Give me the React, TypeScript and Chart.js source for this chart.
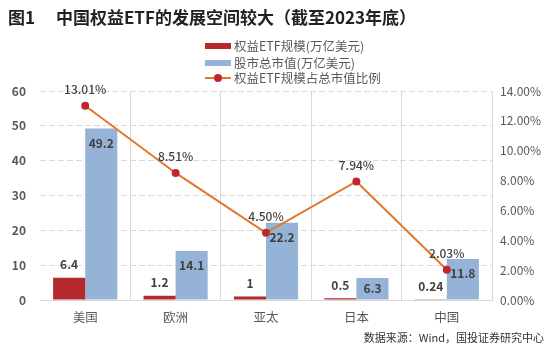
import React, { useEffect, useRef } from "react";
import { Chart, registerables } from "chart.js";

Chart.register(...registerables);

const categories = ["美国", "欧洲", "亚太", "日本", "中国"];
const etfSize = [6.4, 1.2, 1, 0.5, 0.24];
const marketCap = [49.2, 14.1, 22.2, 6.3, 11.8];
const etfRatio = [13.01, 8.51, 4.5, 7.94, 2.03];
const etfSizeLabels = ["6.4", "1.2", "1", "0.5", "0.24"];
const marketCapLabels = ["49.2", "14.1", "22.2", "6.3", "11.8"];

const RED = "#b3292c";
const BLUE = "#95b3d7";
const ORANGE = "#e2762a";
const FONT = "'Noto Sans CJK SC', 'Noto Sans', sans-serif";

const labelPlugin = {
  id: "valueLabels",
  afterDatasetsDraw(chart: any) {
    const ctx = chart.ctx;
    ctx.save();
    ctx.fillStyle = "#404040";
    ctx.textAlign = "center";
    ctx.textBaseline = "middle";
    const bottom = chart.chartArea.bottom;
    const m0 = chart.getDatasetMeta(0);
    ctx.font = `bold 12px ${FONT}`;
    m0.data.forEach((el: any, i: number) => {
      ctx.fillText(etfSizeLabels[i], el.x, el.y - 13);
    });
    const m1 = chart.getDatasetMeta(1);
    m1.data.forEach((el: any, i: number) => {
      const y = Math.min(el.y + 15, bottom - 12);
      ctx.fillText(marketCapLabels[i], el.x, y);
    });
    const m2 = chart.getDatasetMeta(2);
    ctx.font = `500 12px ${FONT}`;
    m2.data.forEach((el: any, i: number) => {
      ctx.fillText(etfRatio[i].toFixed(2) + "%", el.x, el.y - 16.5);
    });
    ctx.restore();
  },
};

function ChartCanvas() {
  const ref = useRef<HTMLCanvasElement | null>(null);
  useEffect(() => {
    if (!ref.current) return;
    const chart = new Chart(ref.current, {
      type: "bar",
      data: {
        labels: categories,
        datasets: [
          {
            type: "bar",
            label: "权益ETF规模(万亿美元)",
            data: etfSize,
            backgroundColor: RED,
            yAxisID: "y",
            order: 1,
            categoryPercentage: 0.71,
            barPercentage: 1,
          },
          {
            type: "bar",
            label: "股市总市值(万亿美元)",
            data: marketCap,
            backgroundColor: BLUE,
            yAxisID: "y",
            order: 1,
            categoryPercentage: 0.71,
            barPercentage: 1,
          },
          {
            type: "line",
            label: "权益ETF规模占总市值比例",
            data: etfRatio,
            borderColor: ORANGE,
            borderWidth: 2,
            pointRadius: 4,
            pointBackgroundColor: "#c0272d",
            pointBorderColor: "#c0272d",
            pointBorderWidth: 0,
            yAxisID: "y1",
            order: 0,
            tension: 0,
          },
        ] as any,
      },
      options: {
        animation: false,
        responsive: true,
        maintainAspectRatio: false,
        layout: { padding: { left: 12, right: 0, top: 91, bottom: 23 } },
        plugins: {
          legend: { display: false },
          tooltip: { enabled: false },
          title: { display: false },
        },
        scales: {
          x: {
            afterFit: (s: any) => {
              s.height = 26;
            },
            grid: {
              offset: true,
              drawTicks: false,
              color: (c: any) => (c.index === 0 || c.index === 5 ? "rgba(0,0,0,0)" : "#d9d9d9"),
              lineWidth: 1,
            },
            border: { display: true, color: "#d9d9d9", width: 1 },
            ticks: {
              padding: 10,
              color: "#595959",
              font: { family: FONT, size: 12.5 },
            },
          },
          y: {
            position: "left",
            min: 0,
            max: 60,
            afterFit: (s: any) => {
              s.width = 28;
            },
            ticks: {
              stepSize: 10,
              padding: 14,
              color: "#595959",
              font: { family: FONT, size: 12, weight: "bold" },
            },
            grid: { drawTicks: false, color: "#d9d9d9", lineWidth: 1 },
            border: { display: false, dash: [6, 3] },
          },
          y1: {
            position: "right",
            min: 0,
            max: 14,
            afterFit: (s: any) => {
              s.width = 58;
            },
            ticks: {
              stepSize: 2,
              padding: 8,
              color: "#595959",
              font: { family: FONT, size: 12 },
              callback: (v: any) => Number(v).toFixed(2) + "%",
            },
            grid: { display: false, drawTicks: false },
            border: { display: false },
          },
        },
      } as any,
      plugins: [labelPlugin],
    });
    return () => chart.destroy();
  }, []);
  return <canvas ref={ref} />;
}

export default function App() {
  const legendText: React.CSSProperties = {
    position: "absolute",
    left: 234,
    fontFamily: FONT,
    fontSize: 12.5,
    color: "#595959",
    lineHeight: "16px",
    whiteSpace: "nowrap",
  };
  return (
    <div
      style={{
        position: "fixed",
        left: 0,
        top: 0,
        width: 550,
        height: 349,
        background: "#fff",
        overflow: "hidden",
      }}
    >
      <div style={{ position: "absolute", left: 0, top: 0, width: 550, height: 349 }}>
        <ChartCanvas />
      </div>
      <div
        style={{
          position: "absolute",
          left: 8,
          top: 6,
          fontFamily: FONT,
          fontWeight: "bold",
          fontSize: 17,
          color: "#222",
          whiteSpace: "pre",
          lineHeight: "22px",
        }}
      >
        {"图1　 中国权益ETF的发展空间较大（截至2023年底）"}
      </div>
      <div style={{ position: "absolute", left: 205, top: 43, width: 26, height: 6, background: RED }} />
      <div style={{ ...legendText, top: 38 }}>权益ETF规模(万亿美元)</div>
      <div style={{ position: "absolute", left: 205, top: 60, width: 26, height: 6, background: BLUE }} />
      <div style={{ ...legendText, top: 55 }}>股市总市值(万亿美元)</div>
      <div style={{ position: "absolute", left: 205, top: 77, width: 26, height: 2, background: ORANGE }} />
      <div
        style={{
          position: "absolute",
          left: 214,
          top: 74,
          width: 8,
          height: 8,
          borderRadius: 4,
          background: "#c0272d",
        }}
      />
      <div style={{ ...legendText, top: 70 }}>权益ETF规模占总市值比例</div>
      <div
        style={{
          position: "absolute",
          right: 6,
          top: 329,
          fontFamily: FONT,
          fontSize: 11,
          color: "#333",
          whiteSpace: "nowrap",
          lineHeight: "16px",
        }}
      >
        数据来源：Wind，国投证券研究中心
      </div>
    </div>
  );
}
